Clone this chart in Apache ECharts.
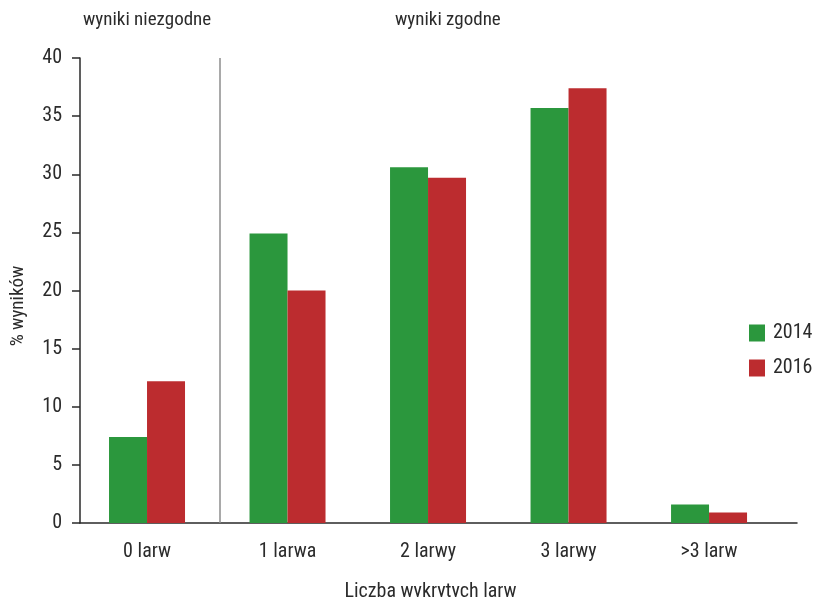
<!DOCTYPE html>
<html>
<head>
<meta charset="utf-8">
<script src="https://cdn.jsdelivr.net/npm/echarts@6/dist/echarts.min.js"></script>
<style>
  html, body { margin: 0; padding: 0; background: #fff; }
  #chart { width: 815px; height: 597px; }
</style>
</head>
<body>
<div id="chart"></div>
<script>
// Categories: number of larvae detected
const categories = ['0 larw', '1 larwa', '2 larwy', '3 larwy', '>3 larw'];
// Share of results (%) per year
const values2014 = [7.4, 24.9, 30.6, 35.7, 1.6];
const values2016 = [12.2, 20.0, 29.7, 37.4, 0.9];
const seriesNames = ['2014', '2016'];
const yTicks = [0, 5, 10, 15, 20, 25, 30, 35, 40];
// Group headers above the plot
const groupTitles = ['wyniki niezgodne', 'wyniki zgodne'];

const FONT = '"Roboto Condensed", "Liberation Sans Narrow", "Liberation Sans", sans-serif';
const TXT = '#2b2b2b';
const GREEN = '#2b973d';
const RED = '#bc2c2f';

const chart = echarts.init(document.getElementById('chart'));

const toPoints = arr => arr.map((v, i) => [i, v]);

chart.setOption({
  animation: false,
  textStyle: { fontFamily: FONT },
  grid: { left: 80, right: 18, top: 58, bottom: 74, outerBoundsMode: 'none', containLabel: false },
  xAxis: {
    type: 'value',
    min: -0.477,
    max: 4.626,
    splitLine: { show: false },
    axisLine: { show: true, onZero: false, lineStyle: { color: '#2a2a2a', width: 1.5 } },
    axisTick: { show: false },
    axisLabel: {
      customValues: [0, 1, 2, 3, 4],
      formatter: v => categories[Math.round(v)] || '',
      fontSize: 20, color: TXT, margin: 19, fontFamily: FONT
    },
    name: 'Liczba wykrytych larw',
    nameLocation: 'middle',
    nameGap: 59,
    nameTextStyle: { fontSize: 20, color: TXT, fontFamily: FONT, padding: [0, 16, 0, 0] }
  },
  yAxis: {
    type: 'value',
    min: 0,
    max: 40,
    interval: 5,
    splitLine: { show: false },
    axisLine: { show: true, onZero: false, lineStyle: { color: '#2a2a2a', width: 1.5 } },
    axisTick: { show: true, inside: false, length: 8, lineStyle: { color: '#2a2a2a', width: 1.5 } },
    axisLabel: {
      fontSize: 20, color: TXT, margin: 18, fontFamily: FONT,
      formatter: v => (yTicks.includes(v) ? String(v) : '')
    }
  },
  legend: {
    orient: 'vertical',
    left: 749,
    top: 323,
    padding: 0,
    itemWidth: 16,
    itemHeight: 17,
    itemGap: 15,
    icon: 'rect',
    data: seriesNames,
    textStyle: { fontSize: 20, color: TXT, fontFamily: FONT, padding: [0, 0, 0, 3] }
  },
  graphic: [
    {
      type: 'text', left: 83, top: 11,
      style: { text: groupTitles[0], fontSize: 19, fill: TXT, fontFamily: FONT }
    },
    {
      type: 'text', left: 395, top: 11,
      style: { text: groupTitles[1], fontSize: 19, fill: TXT, fontFamily: FONT }
    },
    {
      type: 'text', x: 18, y: 306, rotation: Math.PI / 2,
      style: { text: '% wyników', fontSize: 19, fill: TXT, fontFamily: FONT, align: 'center', verticalAlign: 'middle' }
    }
  ],
  series: [
    {
      name: seriesNames[0],
      type: 'bar',
      data: toPoints(values2014),
      barWidth: 38,
      barGap: '0%',
      itemStyle: { color: GREEN }
    },
    {
      name: seriesNames[1],
      type: 'bar',
      data: toPoints(values2016),
      barWidth: 38,
      barGap: '0%',
      itemStyle: { color: RED }
    },
    {
      // Separator between the non-matching and matching result groups
      name: 'separator',
      type: 'line',
      data: [],
      silent: true,
      markLine: {
        silent: true,
        symbol: 'none',
        label: { show: false },
        lineStyle: { color: '#8c8c8c', width: 1.5, type: 'solid' },
        data: [{ xAxis: 0.52 }]
      }
    }
  ]
});
</script>
</body>
</html>
